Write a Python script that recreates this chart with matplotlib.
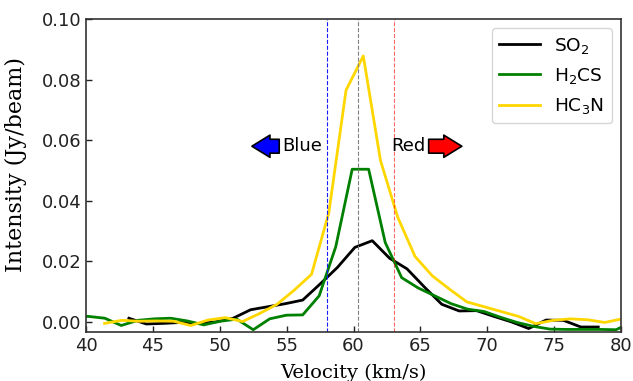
import matplotlib
matplotlib.use("Agg")
import matplotlib.pyplot as plt

# SO2 (black)
v_so2 = [43.2, 44.5, 45.8, 47.1, 48.4, 49.7, 51.0, 52.3, 53.6, 54.9, 56.2, 57.5, 58.8,
         60.1, 61.4, 62.7, 64.0, 65.3, 66.6, 67.9, 69.2, 70.5, 71.8, 73.1, 74.4, 75.7,
         77.0, 78.3]
i_so2 = [0.0012, -0.0007, -0.0005, -0.0002, -0.0006, 0.0000, 0.0012, 0.0040, 0.0050,
         0.0060, 0.0072, 0.0125, 0.0180, 0.0246, 0.0268, 0.0210, 0.0175, 0.0115, 0.0058,
         0.0036, 0.0037, 0.0018, 0.0000, -0.0022, 0.0006, 0.0005, -0.0017, -0.0017]

# H2CS (green)
v_h2cs = [38.93, 40.17, 41.40, 42.63, 43.87, 45.10, 46.33, 47.57, 48.80, 50.03, 51.27,
          52.50, 53.73, 54.97, 56.20, 57.43, 58.67, 59.90, 61.13, 62.37, 63.60, 64.83,
          66.07, 67.30, 68.53, 69.77, 71.00, 72.23, 73.47, 74.70, 75.93, 77.17, 78.40,
          79.63, 80.87]
i_h2cs = [0.0018, 0.0018, 0.0012, -0.0012, 0.0005, 0.0010, 0.0012, 0.0003, -0.0010,
          0.0002, 0.0009, -0.0026, 0.0010, 0.0022, 0.0023, 0.0086, 0.0248, 0.0504, 0.0504,
          0.0262, 0.0146, 0.0112, 0.0086, 0.0060, 0.0042, 0.0034, 0.0015, -0.0002,
          -0.0015, -0.0024, -0.0025, -0.0025, -0.0025, -0.0026, 0.0000]

# HC3N (gold)
v_hc3n = [41.38, 42.67, 43.96, 45.25, 46.54, 47.83, 49.12, 50.41, 51.70, 52.99, 54.28,
          55.57, 56.86, 58.15, 59.44, 60.73, 62.02, 63.31, 64.60, 65.89, 67.18, 68.47,
          69.76, 71.05, 72.34, 73.63, 74.92, 76.21, 77.50, 78.79, 80.08]
i_hc3n = [-0.0005, 0.0005, 0.0002, 0.0003, 0.0002, -0.0012, 0.0006, 0.0014, 0.0001,
          0.0028, 0.0058, 0.0105, 0.0157, 0.0360, 0.0765, 0.0878, 0.0532, 0.0345, 0.0216,
          0.0152, 0.0108, 0.0066, 0.0050, 0.0034, 0.0018, -0.0006, 0.0005, 0.0010,
          0.0007, -0.0002, 0.0010]

series_labels = ["SO$_2$", "H$_2$CS", "HC$_3$N"]
series_colors = ["black", "green", "gold"]

v_blue, v_sys, v_red = 58.0, 60.3, 63.0
xticks = [40, 45, 50, 55, 60, 65, 70, 75, 80]
yticks = [0.00, 0.02, 0.04, 0.06, 0.08, 0.10]

fig = plt.figure(figsize=(6.33, 3.81), dpi=100)
ax = fig.add_axes([0.136, 0.129, 0.845, 0.821])

for v, i, lab, c in zip([v_so2, v_h2cs, v_hc3n], [i_so2, i_h2cs, i_hc3n],
                        series_labels, series_colors):
    ax.plot(v, i, color=c, lw=2, label=lab)

ax.axvline(v_blue, color="#1a1aff", ls="--", lw=0.8)
ax.axvline(v_sys, color="gray", ls="--", lw=0.8)
ax.axvline(v_red, color="red", ls="--", lw=0.8, alpha=0.6)

arrow_kw = dict(edgecolor="black", width=10, headwidth=16, headlength=13, shrink=0.0, lw=1.2)
ax.annotate("Blue", xy=(52.4, 0.058), xytext=(54.65, 0.058), ha="left", va="center",
            fontsize=13, arrowprops=dict(facecolor="blue", **arrow_kw))
ax.annotate("Red", xy=(68.1, 0.058), xytext=(62.85, 0.058), ha="left", va="center",
            fontsize=13, arrowprops=dict(facecolor="red", **arrow_kw))

ax.set_xlim(40, 80)
ax.set_ylim(-0.0033, 0.10)
ax.set_xticks(xticks)
ax.set_yticks(yticks)
ax.set_yticklabels([f"{t:.2f}" for t in yticks])
ax.tick_params(direction="in", labelsize=13, length=4, width=1, colors="#222222")
ax.tick_params(axis="x", pad=4)
for s in ax.spines.values():
    s.set_color("#333333")
    s.set_linewidth(1.2)

ax.set_xlabel("Velocity (km/s)", family="DejaVu Serif", fontsize=14, labelpad=6)
ax.set_ylabel("Intensity (Jy/beam)", family="DejaVu Serif", fontsize=16, labelpad=8)
ax.yaxis.set_label_coords(-0.110, 0.535)

ax.legend(loc="upper right", fontsize=13.3, handlelength=2.2, labelspacing=0.55,
          framealpha=0.8)

fig.savefig("out.png", dpi=100)
